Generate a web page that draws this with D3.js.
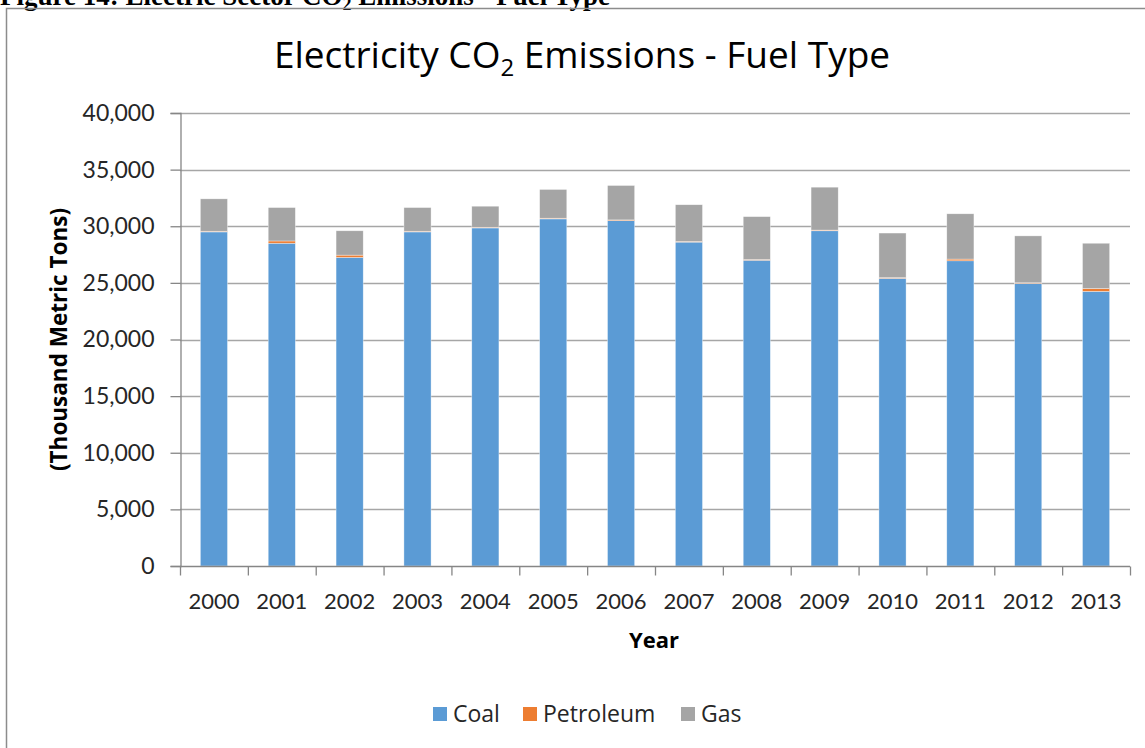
<!DOCTYPE html>
<html>
<head>
<meta charset="utf-8">
<script src="https://cdn.jsdelivr.net/npm/d3@7"></script>
<style>
  body { margin: 0; background: #fff; }
  svg { display: block; }
  text { font-family: "Open Sans", Lato, sans-serif; fill: #262626; }
</style>
</head>
<body>
<svg id="chart" width="1145" height="748"></svg>
<script>
// Electricity CO2 emissions by fuel type, thousand metric tons
const years = ["2000","2001","2002","2003","2004","2005","2006","2007","2008","2009","2010","2011","2012","2013"];
const coal      = [29500, 28500, 27250, 29500, 29850, 30650, 30500, 28600, 27000, 29600, 25400, 26950, 24950, 24250];
const petroleum = [60, 200, 200, 60, 60, 60, 60, 60, 60, 60, 60, 150, 60, 250];
const gas       = [2860, 2950, 2150, 2090, 1860, 2540, 3040, 3240, 3790, 3790, 3940, 4000, 4140, 4000];
const yTicks    = [0, 5000, 10000, 15000, 20000, 25000, 30000, 35000, 40000];

const seriesNames  = ["Coal", "Petroleum", "Gas"];
const seriesColors = ["#5B9BD5", "#ED7D31", "#A5A5A5"];

const svg = d3.select("#chart");

// Figure caption above the chart frame (page top cuts through it)
const cap = svg.append("text")
  .attr("x", 0).attr("y", 4.5)
  .style("font-family", "'Liberation Serif', 'Times New Roman', serif")
  .style("font-weight", "bold").style("font-size", "27px").style("fill", "#000");
cap.append("tspan").text("Figure 14: Electric Sector CO");
cap.append("tspan").text("2").style("font-size", "18px").attr("dy", 5);
cap.append("tspan").text(" Emissions - Fuel Type").attr("dy", -5);

// Chart frame
svg.append("rect")
  .attr("x", 6.5).attr("y", 8.5).attr("width", 1200).attr("height", 800)
  .attr("fill", "none").attr("stroke", "#8c8c8c").attr("stroke-width", 1.5);

const plot = { left: 180, right: 1130, top: 113, bottom: 566 };

const x = d3.scaleBand().domain(years).range([plot.left, plot.right]).padding(0);
const y = d3.scaleLinear().domain([0, 40000]).range([plot.bottom, plot.top]);

// Gridlines
svg.append("g").selectAll("line").data(yTicks.filter(d => d > 0)).join("line")
  .attr("x1", plot.left).attr("x2", plot.right)
  .attr("y1", d => Math.round(y(d)) + 0.5).attr("y2", d => Math.round(y(d)) + 0.5)
  .attr("stroke", "#a6a6a6").attr("stroke-width", 1.3);

// Stacked bars
const rows = years.map((yr, i) => ({ year: yr, Coal: coal[i], Petroleum: petroleum[i], Gas: gas[i] }));
const stack = d3.stack().keys(seriesNames)(rows);
const barW = x.bandwidth() * 0.4;

svg.append("g").selectAll("g").data(stack).join("g")
  .attr("fill", (d, i) => seriesColors[i])
  .selectAll("rect").data(d => d).join("rect")
  .attr("x", d => x(d.data.year) + (x.bandwidth() - barW) / 2)
  .attr("width", barW)
  .attr("y", d => y(d[1]))
  .attr("height", d => Math.max(0, y(d[0]) - y(d[1])))
  .attr("stroke", "#ffffff").attr("stroke-opacity", 0.6).attr("stroke-width", 0.6);

// Y axis
const yAxis = d3.axisLeft(y).tickValues(yTicks).tickSize(10).tickPadding(16)
  .tickFormat(d3.format(","));
const yg = svg.append("g").attr("transform", `translate(${plot.left + 0.5},0)`).call(yAxis);
yg.select(".domain").attr("stroke", "#868686").attr("stroke-width", 1.3);
yg.selectAll(".tick line").attr("stroke", "#868686").attr("stroke-width", 1.3);
yg.selectAll(".tick text").style("font-family", "Lato, sans-serif").style("font-size", "23px").attr("fill", "#262626");

// X axis: ticks at category boundaries
const xg = svg.append("g").attr("transform", `translate(0,${plot.bottom + 0.5})`);
xg.append("line").attr("x1", plot.left).attr("x2", plot.right)
  .attr("stroke", "#868686").attr("stroke-width", 1.3);
const bounds = years.map(d => x(d)).concat([plot.right]);
xg.selectAll("line.tk").data(bounds).join("line").attr("class", "tk")
  .attr("x1", d => d + 0.5).attr("x2", d => d + 0.5).attr("y1", 0).attr("y2", 9)
  .attr("stroke", "#868686").attr("stroke-width", 1.3);
xg.selectAll("text").data(years).join("text")
  .attr("x", d => x(d) + x.bandwidth() / 2).attr("y", 42)
  .attr("text-anchor", "middle").style("font-family", "Lato, sans-serif")
  .style("font-size", "22px").text(d => d);

// Axis titles
svg.append("text").attr("x", 654).attr("y", 648).attr("text-anchor", "middle")
  .style("font-weight", "bold").style("font-size", "22px").style("fill", "#000").text("Year");
svg.append("text").attr("transform", "translate(67,339.5) rotate(-90)").attr("text-anchor", "middle")
  .style("font-weight", "bold").style("font-size", "22.5px").style("fill", "#000").text("(Thousand Metric Tons)");

// Chart title with subscript
const title = svg.append("text").attr("x", 582).attr("y", 68).attr("text-anchor", "middle")
  .style("font-size", "37px").style("fill", "#000");
title.append("tspan").text("Electricity CO");
title.append("tspan").text("2").style("font-size", "24px").attr("dy", 8);
title.append("tspan").text(" Emissions - Fuel Type").attr("dy", -8);

// Legend
const legendItems = [
  { name: "Coal", color: seriesColors[0], x: 433 },
  { name: "Petroleum", color: seriesColors[1], x: 523 },
  { name: "Gas", color: seriesColors[2], x: 681 }
];
const lg = svg.append("g").selectAll("g").data(legendItems).join("g")
  .attr("transform", d => `translate(${d.x},707)`);
lg.append("rect").attr("width", 14).attr("height", 14).attr("fill", d => d.color);
lg.append("text").attr("x", 20).attr("y", 14.5).style("font-size", "23px").text(d => d.name);
</script>
</body>
</html>
